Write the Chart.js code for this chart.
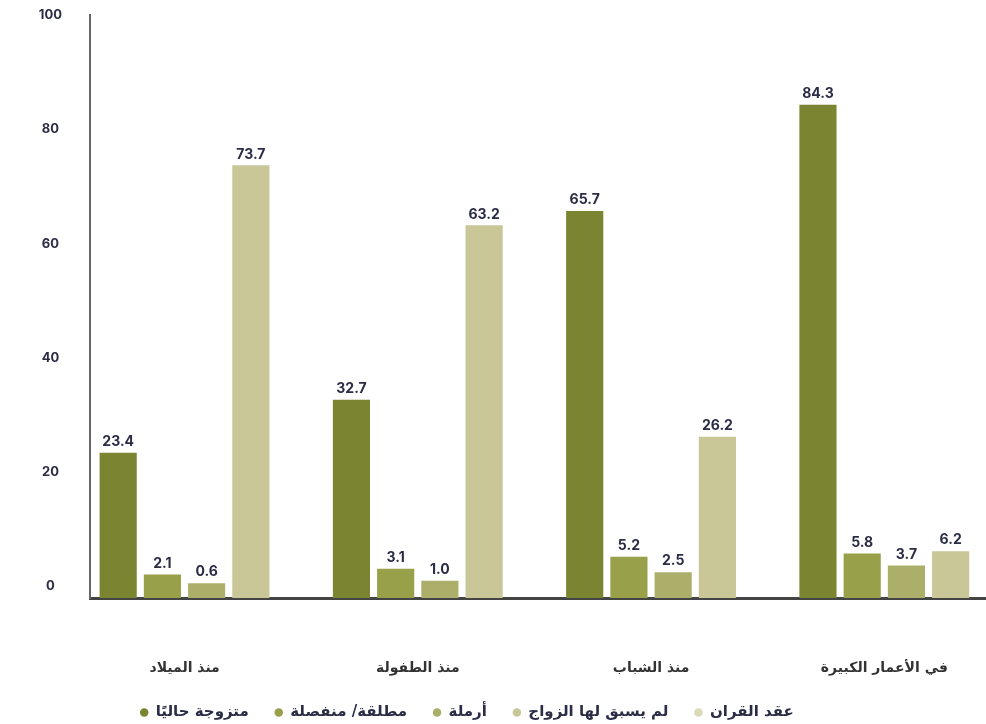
<!DOCTYPE html>
<html lang="ar">
<head>
<meta charset="utf-8">
<script src="https://cdn.jsdelivr.net/npm/chart.js@4.4.1/dist/chart.umd.min.js"></script>
<style>
    html, body { margin: 0; padding: 0; background: #fff; overflow: hidden; }
    /* wider than the window: the source image is cropped on the right */
    #wrap { position: relative; width: 1032px; height: 724px; }
</style>
</head>
<body>
<div id="wrap"><canvas id="chart"></canvas></div>
<script>
const categories = ['منذ الميلاد', 'منذ الطفولة', 'منذ الشباب', 'في الأعمار الكبيرة'];
const seriesNames = ['متزوجة حاليًا', 'مطلقة/ منفصلة', 'أرملة', 'لم يسبق لها الزواج', 'عقد القران'];
const currentlyMarried = [23.4, 32.7, 65.7, 84.3];
const divorcedSeparated = [2.1, 3.1, 5.2, 5.8];
const widowed = [0.6, 1.0, 2.5, 3.7];
const neverMarried = [73.7, 63.2, 26.2, 6.2];
const marriageContract = [null, null, null, null];
const yTicks = [0, 20, 40, 60, 80, 100];
const seriesColors = ['#7b8430', '#98a04a', '#acaf69', '#c9c698', '#dcd9b8'];

// in the source the bars rise from a floor a little under zero
const Y_FLOOR = -2;

const ARABIC = '"DejaVu Sans", sans-serif';
const NUMBERS = 'Inter, "DejaVu Sans", sans-serif';
const INK = '#2b2c45';

// value above each bar
const valueLabels = {
    id: 'valueLabels',
    afterDatasetsDraw(chart) {
        const { ctx } = chart;
        ctx.save();
        ctx.font = `bold 14px ${NUMBERS}`;
        ctx.fillStyle = INK;
        ctx.textAlign = 'center';
        ctx.textBaseline = 'bottom';
        chart.data.datasets.forEach((ds, i) => {
            chart.getDatasetMeta(i).data.forEach((bar, j) => {
                const v = ds.data[j];
                if (v == null) {
                    return;
                }
                ctx.fillText(v.toFixed(1), bar.x, bar.y - 4);
            });
        });
        ctx.restore();
    },
};

const seriesData = [currentlyMarried, divorcedSeparated, widowed, neverMarried, marriageContract];

new Chart(document.getElementById('chart'), {
    type: 'bar',
    data: {
        labels: categories,
        datasets: seriesNames.map((name, i) => ({
            label: name,
            data: seriesData[i],
            base: Y_FLOOR,
            backgroundColor: seriesColors[i],
            borderWidth: 0,
        })),
    },
    options: {
        responsive: true,
        maintainAspectRatio: false,
        animation: false,
        categoryPercentage: 0.948,
        barPercentage: 0.84,
        layout: { padding: { top: 15, right: 0, left: -98, bottom: 0 } },
        plugins: {
            tooltip: { enabled: false },
            legend: {
                position: 'bottom',
                maxHeight: 45,
                labels: {
                    usePointStyle: true,
                    pointStyle: 'circle',
                    boxWidth: 8,
                    boxHeight: 6,
                    padding: 26,
                    color: INK,
                    font: { family: ARABIC, size: 15, weight: 'bold' },
                },
            },
        },
        scales: {
            x: {
                grid: { display: false, drawTicks: false },
                border: { display: true, color: '#444', width: 3 },
                ticks: {
                    padding: 62,
                    labelOffset: -22,
                    color: '#333',
                    font: { family: ARABIC, size: 14, weight: 'bold' },
                },
                afterFit: (scale) => { scale.height = 81; },
            },
            y: {
                min: Y_FLOOR,
                max: 100,
                grid: { display: false, drawTicks: true, tickLength: 28 },
                border: { display: true, color: '#666', width: 2 },
                afterBuildTicks: (scale) => { scale.ticks = yTicks.map((v) => ({ value: v })); },
                ticks: {
                    padding: 0,
                    crossAlign: 'center',
                    color: INK,
                    font: { family: NUMBERS, size: 13, weight: 'bold' },
                },
                afterFit: (scale) => { scale.width = 188; },
            },
        },
    },
    plugins: [valueLabels],
});
</script>
</body>
</html>
